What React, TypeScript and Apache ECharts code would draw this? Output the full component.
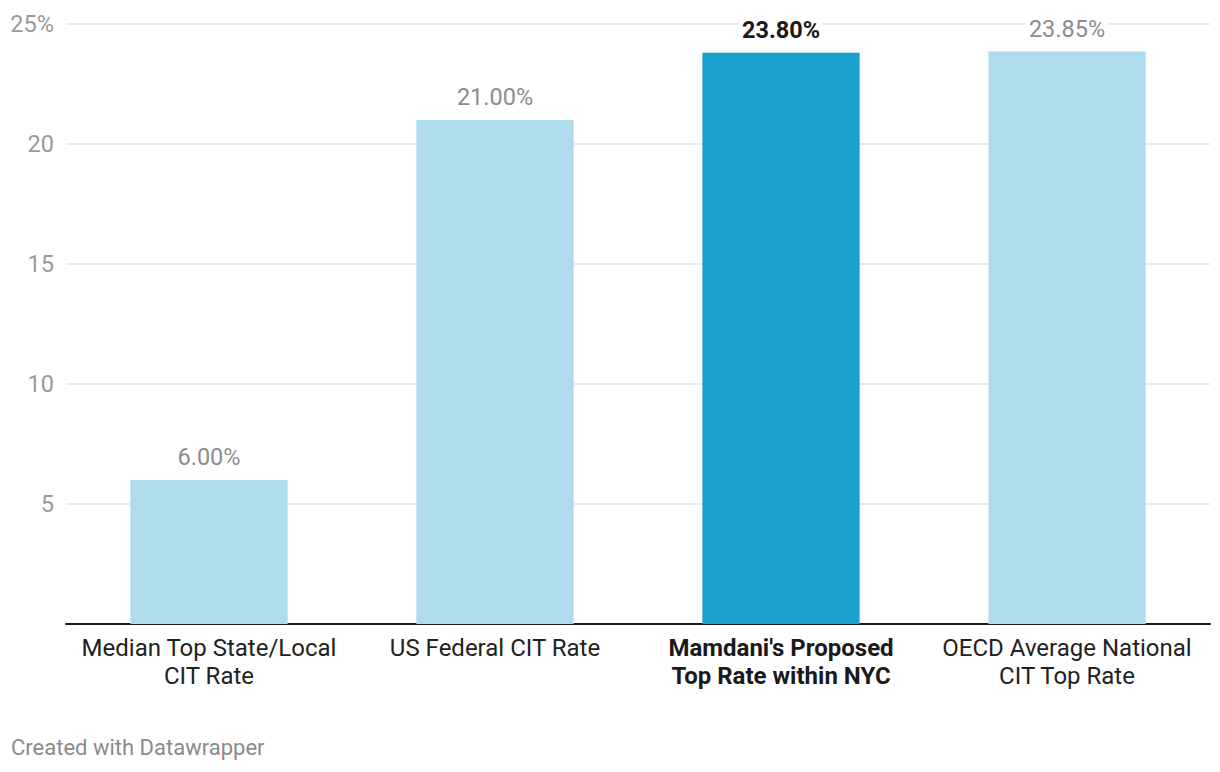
import React, { useEffect, useRef } from "react";
import * as echarts from "echarts";

const categories = [
  "Median Top State/Local\nCIT Rate",
  "US Federal CIT Rate",
  "Mamdani's Proposed\nTop Rate within NYC",
  "OECD Average National\nCIT Top Rate",
];
const values = [6.0, 21.0, 23.8, 23.85];
const highlightIndex = 2;
const yTicks = [0, 5, 10, 15, 20, 25];

export default function App() {
  const ref = useRef<HTMLDivElement>(null);
  useEffect(() => {
    document.body.style.margin = "0";
    const chart = echarts.init(ref.current!, null, { renderer: "svg" });
    const font = "Roboto, 'Noto Sans', sans-serif";
    const fs = 23.5;
    const cfs = 24;
    chart.setOption({
      animation: false,
      textStyle: { fontFamily: font },
      grid: { left: 66, right: 10, top: 24, bottom: 148, containLabel: false },
      xAxis: {
        type: "category",
        data: categories,
        axisLine: { show: true, lineStyle: { color: "#1a1a1a", width: 2 } },
        axisTick: { show: false },
        axisLabel: {
          interval: 0,
          margin: 10,
          color: "#222",
          fontSize: cfs,
          lineHeight: 28,
          fontFamily: font,
          formatter: (v: string, i: number) =>
            i === highlightIndex
              ? v.split("\n").map((l) => `{b|${l}}`).join("\n")
              : v,
          rich: {
            b: { fontWeight: "bold", color: "#1a1a1a", fontSize: cfs, lineHeight: 28, fontFamily: font },
          },
        },
      },
      yAxis: {
        type: "value",
        min: yTicks[0],
        max: yTicks[yTicks.length - 1],
        interval: 5,
        axisLine: { show: false },
        axisTick: { show: false },
        splitLine: { lineStyle: { color: "#e4e4e4", width: 1.5 } },
        axisLabel: {
          margin: 12,
          color: "#9a9a9a",
          fontSize: fs,
          fontFamily: font,
          formatter: (v: number) =>
            v === 0 ? "" : v === yTicks[yTicks.length - 1] ? `${v}%` : `${v}`,
        },
      },
      series: [
        {
          type: "bar",
          barWidth: "55%",
          data: values.map((v, i) => ({
            value: v,
            itemStyle: { color: i === highlightIndex ? "#1aa1ce" : "#aedcec" },
            label: {
              show: true,
              position: "top",
              distance: 11,
              formatter: `${v.toFixed(2)}%`,
              color: i === highlightIndex ? "#1a1a1a" : "#8c8c8c",
              fontWeight: i === highlightIndex ? "bold" : "normal",
              fontSize: fs,
              fontFamily: font,
              backgroundColor: "#ffffff",
              padding: [0, 3],
            },
          })),
        },
      ],
      graphic: [
        {
          type: "text",
          left: 11,
          top: 736,
          style: {
            text: "Created with Datawrapper",
            fill: "#8a8a8a",
            fontSize: 22,
            fontFamily: font,
          },
        },
      ],
    });
    return () => chart.dispose();
  }, []);
  return <div ref={ref} style={{ width: 1220, height: 772 }} />;
}
